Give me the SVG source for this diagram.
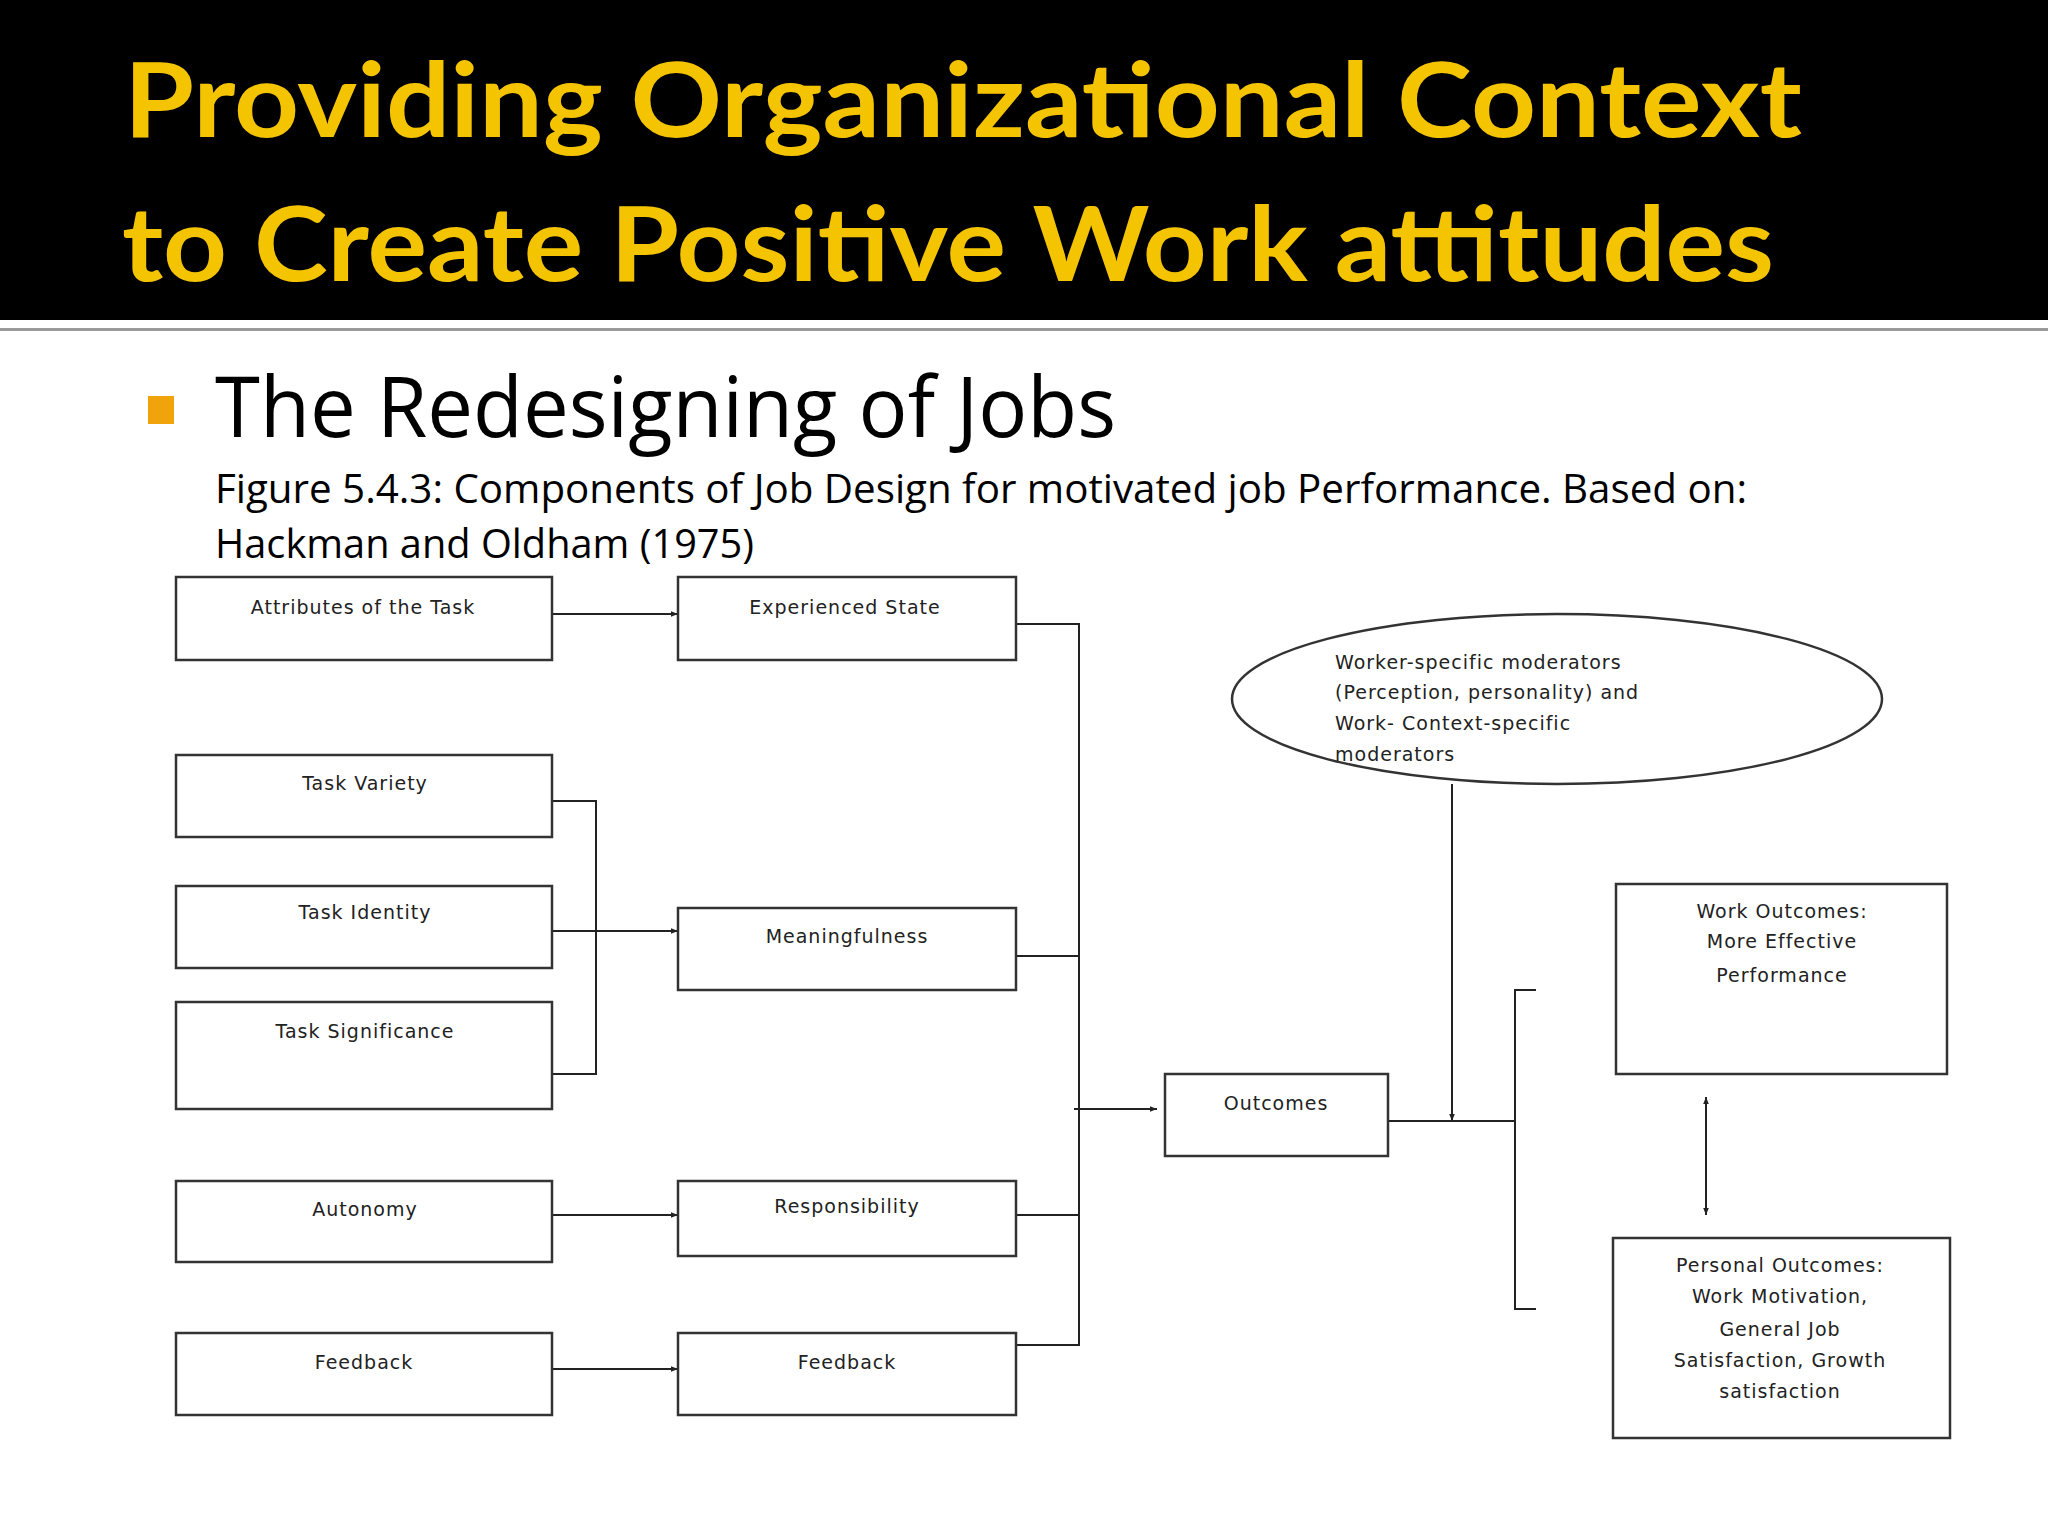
<svg xmlns="http://www.w3.org/2000/svg" width="2048" height="1536" viewBox="0 0 2048 1536">
<defs>
<marker id="ah" viewBox="0 0 10 10" refX="10" refY="5" markerWidth="7" markerHeight="7" orient="auto-start-reverse" markerUnits="userSpaceOnUse"><path d="M0,1 L10,5 L0,9 z" fill="#222"/></marker>
</defs>
<style>
.b{fill:#fff;stroke:#333;stroke-width:2.5}
.t{font-family:"DejaVu Sans",sans-serif;font-size:19px;fill:#222;text-anchor:middle;letter-spacing:1px}
.l{fill:none;stroke:#222;stroke-width:2}
.a{marker-end:url(#ah)}
</style>
<rect width="2048" height="1536" fill="#fff"/>
<rect width="2048" height="320" fill="#000"/>
<rect y="328" width="2048" height="3" fill="#999"/>
<text x="124" y="137" font-family="Lato, 'Open Sans', sans-serif" font-weight="bold" font-size="104" fill="#F5C400" textLength="1678" lengthAdjust="spacingAndGlyphs">Providing Organizational Context</text>
<text x="122" y="281" font-family="Lato, 'Open Sans', sans-serif" font-weight="bold" font-size="104" fill="#F5C400" textLength="1652" lengthAdjust="spacingAndGlyphs">to Create Positive Work attitudes</text>
<rect x="148" y="396" width="26" height="28" fill="#F0A30A"/>
<text x="215" y="437" font-family="'Open Sans', sans-serif" font-size="84" fill="#000" textLength="901" lengthAdjust="spacingAndGlyphs">The Redesigning of Jobs</text>
<text x="215" y="503" font-family="'Open Sans', sans-serif" font-size="40" fill="#000" textLength="1532" lengthAdjust="spacingAndGlyphs">Figure 5.4.3: Components of Job Design for motivated job Performance. Based on:</text>
<text x="215" y="558" font-family="'Open Sans', sans-serif" font-size="40" fill="#000" textLength="539" lengthAdjust="spacingAndGlyphs">Hackman and Oldham (1975)</text>
<g id="connectors">
<path class="l a" d="M552,614 H678"/>
<path class="l" d="M552,801 H596 V1074 H552"/>
<path class="l a" d="M552,931 H678"/>
<path class="l a" d="M552,1215 H678"/>
<path class="l a" d="M552,1369 H678"/>
<path class="l" d="M1016,624 H1079 V1345 H1016 M1016,956 H1079 M1016,1215 H1079"/>
<path class="l a" d="M1074,1109 H1157"/>
<path class="l" d="M1388,1121 H1515 M1536,990 H1515 V1309 H1536"/>
<path class="l a" d="M1452,784 V1121"/>
<path class="l a" d="M1706,1150 V1097"/>
<path class="l a" d="M1706,1150 V1215"/>
</g>
<g id="attr"><rect class="b" x="176" y="577" width="376" height="83"/><text class="t" x="363" y="614">Attributes of the Task</text></g>
<g id="exp"><rect class="b" x="678" y="577" width="338" height="83"/><text class="t" x="845" y="614">Experienced State</text></g>
<g id="variety"><rect class="b" x="176" y="755" width="376" height="82"/><text class="t" x="365" y="790">Task Variety</text></g>
<g id="identity"><rect class="b" x="176" y="886" width="376" height="82"/><text class="t" x="365" y="919">Task Identity</text></g>
<g id="signif"><rect class="b" x="176" y="1002" width="376" height="107"/><text class="t" x="365" y="1038">Task Significance</text></g>
<g id="auto"><rect class="b" x="176" y="1181" width="376" height="81"/><text class="t" x="365" y="1216">Autonomy</text></g>
<g id="fb1"><rect class="b" x="176" y="1333" width="376" height="82"/><text class="t" x="364" y="1369">Feedback</text></g>
<g id="mean"><rect class="b" x="678" y="908" width="338" height="82"/><text class="t" x="847" y="943">Meaningfulness</text></g>
<g id="resp"><rect class="b" x="678" y="1181" width="338" height="75"/><text class="t" x="847" y="1213">Responsibility</text></g>
<g id="fb2"><rect class="b" x="678" y="1333" width="338" height="82"/><text class="t" x="847" y="1369">Feedback</text></g>
<g id="out"><rect class="b" x="1165" y="1074" width="223" height="82"/><text class="t" x="1276" y="1110">Outcomes</text></g>
<g id="mod"><ellipse class="b" cx="1557" cy="699" rx="325" ry="85"/>
<text class="t" style="text-anchor:start" x="1335" y="669">Worker-specific moderators</text>
<text class="t" style="text-anchor:start" x="1335" y="699">(Perception, personality) and</text>
<text class="t" style="text-anchor:start" x="1335" y="730">Work- Context-specific</text>
<text class="t" style="text-anchor:start" x="1335" y="761">moderators</text></g>
<g id="work"><rect class="b" x="1616" y="884" width="331" height="190"/>
<text class="t" x="1782" y="918">Work Outcomes:</text><text class="t" x="1782" y="948">More Effective</text><text class="t" x="1782" y="982">Performance</text></g>
<g id="pers"><rect class="b" x="1613" y="1238" width="337" height="200"/>
<text class="t" x="1780" y="1272">Personal Outcomes:</text><text class="t" x="1780" y="1303">Work Motivation,</text><text class="t" x="1780" y="1336">General Job</text><text class="t" x="1780" y="1367">Satisfaction, Growth</text><text class="t" x="1780" y="1398">satisfaction</text></g>
</svg>
